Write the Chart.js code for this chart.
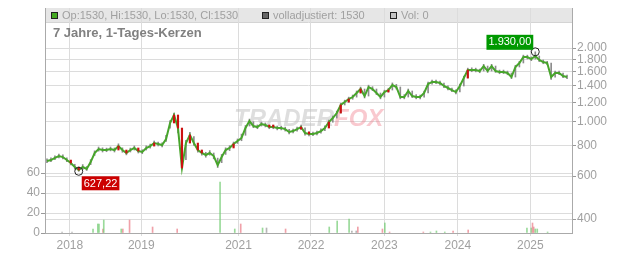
<!DOCTYPE html>
<html>
<head>
<meta charset="utf-8">
<script src="https://cdn.jsdelivr.net/npm/chart.js@4.4.1/dist/chart.umd.min.js"></script>
<style>
  html, body { margin: 0; padding: 0; background: #fff; }
</style>
</head>
<body>
<canvas id="myChart" width="632" height="253"></canvas>
<script>
// one sample roughly every 14 trading days
let closes = [691, 697, 711, 724, 717, 697, 678, 653, 635, 653,
  641, 684, 745, 773, 766, 766, 773, 766, 795, 766,
  745, 766, 781, 759, 752, 781, 795, 818, 811, 803,
  850, 988, 1065, 942, 647, 818, 882, 818, 766, 745,
  731, 745, 724, 665, 717, 766, 781, 811, 834, 858,
  942, 1006, 960, 951, 978, 969, 951, 951, 942, 942,
  933, 908, 916, 933, 951, 899, 891, 891, 899, 916,
  942, 997, 1035, 1085, 1170, 1203, 1238, 1261, 1310, 1360,
  1273, 1386, 1360, 1310, 1261, 1322, 1347, 1412, 1386, 1261,
  1261, 1335, 1273, 1261, 1261, 1310, 1425, 1453, 1453, 1439,
  1399, 1373, 1347, 1322, 1399, 1508, 1626, 1626, 1626, 1611,
  1688, 1611, 1688, 1611, 1596, 1596, 1581, 1522, 1673, 1737,
  1838, 1838, 1803, 1855, 1787, 1753, 1737, 1522, 1581, 1581,
  1537, 1522];

let highs = [705, 712, 726, 738, 732, 712, 694, 670, 650, 668,
  656, 700, 760, 788, 782, 780, 788, 781, 812, 782,
  760, 780, 796, 774, 768, 797, 810, 834, 826, 820,
  880, 1010, 1085, 1040, 900, 840, 905, 870, 800, 765,
  750, 762, 745, 710, 735, 782, 798, 826, 850, 890,
  965, 1025, 1000, 970, 995, 988, 968, 968, 960, 958,
  950, 930, 934, 950, 968, 945, 910, 908, 916, 935,
  962, 1015, 1055, 1105, 1190, 1225, 1260, 1285, 1335, 1385,
  1360, 1410, 1390, 1360, 1310, 1345, 1370, 1440, 1420, 1386,
  1290, 1360, 1335, 1290, 1285, 1335, 1450, 1480, 1480, 1465,
  1439, 1400, 1373, 1350, 1425, 1535, 1655, 1660, 1655, 1640,
  1715, 1688, 1715, 1688, 1625, 1625, 1610, 1581, 1700, 1765,
  1870, 1870, 1840, 1930, 1855, 1787, 1765, 1737, 1610, 1610,
  1581, 1550];

let lows = [680, 686, 700, 712, 704, 686, 666, 640, 627.22, 638,
  632, 668, 728, 758, 752, 754, 760, 752, 776, 750,
  732, 752, 766, 745, 740, 766, 780, 802, 796, 788,
  830, 940, 1020, 900, 640, 700, 850, 800, 750, 730,
  716, 730, 705, 650, 680, 735, 762, 792, 815, 836,
  880, 960, 945, 936, 960, 952, 936, 936, 926, 926,
  916, 892, 900, 915, 930, 880, 875, 876, 883, 898,
  920, 945, 995, 1035, 1085, 1170, 1200, 1235, 1260, 1310,
  1250, 1273, 1340, 1290, 1240, 1261, 1322, 1347, 1360, 1240,
  1240, 1261, 1255, 1240, 1240, 1261, 1310, 1425, 1430, 1415,
  1378, 1350, 1325, 1300, 1322, 1399, 1508, 1600, 1598, 1585,
  1611, 1590, 1611, 1590, 1570, 1572, 1555, 1500, 1522, 1673,
  1737, 1805, 1775, 1803, 1760, 1725, 1710, 1490, 1522, 1555,
  1512, 1500];

// samples where a red (falling) candle shows
let downIdx = [6, 8, 18, 20, 23, 27, 32, 33, 34, 36, 38, 39, 47, 56, 57, 64, 66, 71, 74, 76, 79, 86, 106];

// year boundaries, in sample positions
let yearPos = [5.75, 23.75, 48.25, 66.5, 85, 103.5, 121.75];
let yearLabels = ['2018', '2019', '2021', '2022', '2023', '2024', '2025'];

let priceTicks = [400, 600, 800, 1000, 1200, 1400, 1600, 1800, 2000];
let volTicks = [0, 20, 40, 60];

// volume bars: position (sample), value, colour (g = up, r = down, n = neutral)
let volPos = [3.8, 6.3, 11.6, 12.8, 13.1, 14.1, 14.3, 18.7, 19.1, 20.8,
  26.6, 32.8, 43.6, 47.3, 48.8, 54.3, 55.3, 60.1, 71.1, 73.1,
  76.1, 76.8, 77.9, 78.3, 84.5, 85.1, 86.3, 94.8, 96.6, 98.1,
  100.2, 102.3, 106.1, 120.9, 122, 122.3, 122.6, 123, 123.5, 126.1];
let volValues = [1, 1, 4, 9, 9, 4, 13, 4, 4, 13,
  6, 4, 51, 4, 9, 5, 5, 4, 6, 12,
  14, 2, 2, 6, 4, 10, 1, 1, 1, 2,
  1, 2, 3, 5, 5, 10, 6, 4, 4, 1];
let volKind = ['n', 'n', 'g', 'g', 'g', 'r', 'g', 'g', 'r', 'r',
  'r', 'r', 'g', 'g', 'r', 'g', 'n', 'r', 'g', 'g',
  'g', 'n', 'n', 'r', 'r', 'g', 'r', 'r', 'g', 'g',
  'g', 'r', 'r', 'g', 'g', 'r', 'r', 'g', 'g', 'g'];

const FONT = "'Liberation Sans', Arial, sans-serif";
Chart.defaults.font.family = FONT;

const GREEN = '#47a52b';
const RED = '#cc1111';
const volColor = { g: 'rgba(120,205,120,0.75)', r: 'rgba(235,130,140,0.75)', n: 'rgba(150,150,150,0.7)' };

function deNum(v, dec) {
  let parts = v.toFixed(dec).split('.');
  let intPart = parts[0].replace(/\B(?=(\d{3})+(?!\d))/g, '.');
  return dec ? intPart + ',' + parts[1] : intPart;
}

let minI = lows.indexOf(Math.min(...lows));
let maxI = highs.indexOf(Math.max(...highs));

const decor = {
  id: 'decor',
  beforeDraw(chart) {
    const c = chart.ctx, a = chart.chartArea;
    c.save();
    c.fillStyle = '#e6e6e6';
    c.fillRect(a.left, a.top, a.right - a.left, 14);
    c.strokeStyle = '#d4d4d4';
    c.lineWidth = 1;
    c.beginPath();
    c.moveTo(a.left, a.top + 14.5);
    c.lineTo(a.right, a.top + 14.5);
    c.stroke();
    c.restore();
  },
  beforeDatasetsDraw(chart) {
    const c = chart.ctx;
    c.save();
    c.font = 'bold italic 24px ' + FONT;
    c.textBaseline = 'alphabetic';
    c.fillStyle = 'rgba(190,190,190,0.5)';
    c.fillText('TRADER', 234, 126);
    let w = c.measureText('TRADER').width;
    c.fillStyle = 'rgba(240,120,135,0.4)';
    c.fillText('FOX', 234 + w, 126);
    c.restore();
  },
  afterDatasetsDraw(chart) {
    const c = chart.ctx, xs = chart.scales.x, ys = chart.scales.y;
    c.save();
    c.font = '11px ' + FONT;
    c.textBaseline = 'middle';
    // lowest low
    let px = xs.getPixelForValue(minI), py = ys.getPixelForValue(lows[minI]);
    c.strokeStyle = '#222';
    c.lineWidth = 1;
    c.beginPath(); c.arc(px, py, 4, 0, Math.PI * 2); c.stroke();
    let t = deNum(lows[minI], 2);
    let w = c.measureText(t).width + 4;
    c.fillStyle = '#cc0000';
    c.fillRect(px + 3, py + 5, w, 14);
    c.fillStyle = '#fff';
    c.fillText(t, px + 5, py + 12.5);
    // highest high
    px = xs.getPixelForValue(maxI); py = ys.getPixelForValue(highs[maxI]);
    c.beginPath(); c.arc(px, py, 4, 0, Math.PI * 2); c.stroke();
    t = deNum(highs[maxI], 2);
    w = c.measureText(t).width + 4;
    c.fillStyle = '#009900';
    c.fillRect(px - 2 - w, py - 17, w, 15);
    c.fillStyle = '#fff';
    c.fillText(t, px - w, py - 9.5);
    c.restore();
  },
  afterDraw(chart) {
    const c = chart.ctx;
    c.save();
    c.textBaseline = 'middle';
    c.font = '11px ' + FONT;
    c.lineWidth = 1;
    let items = [[51, '#44aa22', 'Op:1530, Hi:1530, Lo:1530, Cl:1530'],
                 [262, '#666666', 'volladjustiert: 1530'],
                 [390, '#c4c4c4', 'Vol: 0']];
    items.forEach(it => {
      c.fillStyle = it[1];
      c.fillRect(it[0], 12, 7, 7);
      c.strokeStyle = '#222';
      c.strokeRect(it[0] + 0.5, 12.5, 6, 6);
      c.fillStyle = '#a0a0a0';
      c.fillText(it[2], it[0] + 11, 15.5);
    });
    c.font = 'bold 13px ' + FONT;
    c.fillStyle = '#808080';
    c.fillText('7 Jahre, 1-Tages-Kerzen', 53, 33.5);
    c.restore();
  }
};

var ctx = document.getElementById('myChart').getContext('2d');

var myChart = new Chart(ctx, {
  data: {
    datasets: [
      {
        type: 'bar',
        label: 'down',
        data: downIdx.map(i => ({ x: i, y: [closes[i - 1], closes[i]] })),
        backgroundColor: RED,
        barThickness: 1.5,
        minBarLength: 2,
        grouped: false,
        yAxisID: 'y'
      },
      {
        type: 'line',
        label: 'Kurs',
        data: closes.map((v, i) => ({ x: i, y: v })),
        borderColor: GREEN,
        borderWidth: 2,
        pointRadius: 0,
        tension: 0,
        yAxisID: 'y'
      },
      {
        type: 'bar',
        label: 'Docht',
        data: closes.map((v, i) => ({ x: i, y: [lows[i], highs[i]] })),
        backgroundColor: '#8c8c8c',
        barThickness: 1,
        grouped: false,
        yAxisID: 'y'
      },
      {
        type: 'bar',
        label: 'Vol',
        data: volPos.map((p, i) => ({ x: p, y: volValues[i] })),
        backgroundColor: volKind.map(k => volColor[k]),
        barThickness: 1,
        grouped: false,
        yAxisID: 'yVol'
      }
    ]
  },
  options: {
    responsive: false,
    animation: false,
    layout: { padding: { top: 8, left: 0, right: 0, bottom: 0 } },
    plugins: { legend: { display: false }, tooltip: { enabled: false } },
    scales: {
      x: {
        type: 'linear',
        offset: false,
        min: -0.5,
        max: closes.length + 0.25,
        afterBuildTicks: s => { s.ticks = yearPos.map(v => ({ value: v })); },
        afterFit: s => { s.height = 20; s.paddingLeft = 0; s.paddingRight = 0; },
        ticks: {
          callback: (v, i) => yearLabels[i],
          color: '#a0a0a0',
          font: { size: 12 },
          maxRotation: 0,
          autoSkip: false,
          padding: 2
        },
        grid: { color: '#dcdcdc', tickLength: 3, tickColor: '#dcdcdc', offset: false },
        border: { color: '#aaaaaa' }
      },
      y: {
        type: 'logarithmic',
        position: 'right',
        min: 351,
        max: 2914,
        afterBuildTicks: s => { s.ticks = priceTicks.map(v => ({ value: v })); },
        afterFit: s => { s.width = 60; s.paddingTop = 0; s.paddingBottom = 0; },
        ticks: {
          callback: v => deNum(v, 0),
          color: '#a0a0a0',
          font: { size: 12 },
          padding: 1
        },
        grid: { color: '#dcdcdc', tickLength: 4, tickColor: '#999999' },
        border: { color: '#aaaaaa' }
      },
      yVol: {
        type: 'linear',
        position: 'left',
        min: 0,
        max: 225,
        afterBuildTicks: s => { s.ticks = volTicks.map(v => ({ value: v })); },
        afterFit: s => { s.width = 45; s.paddingTop = 0; s.paddingBottom = 0; },
        ticks: {
          color: '#a0a0a0',
          font: { size: 12 },
          padding: 1
        },
        grid: { color: '#dcdcdc', tickLength: 4, tickColor: '#999999' },
        border: { color: '#aaaaaa' }
      }
    }
  },
  plugins: [decor]
});
</script>
</body>
</html>
